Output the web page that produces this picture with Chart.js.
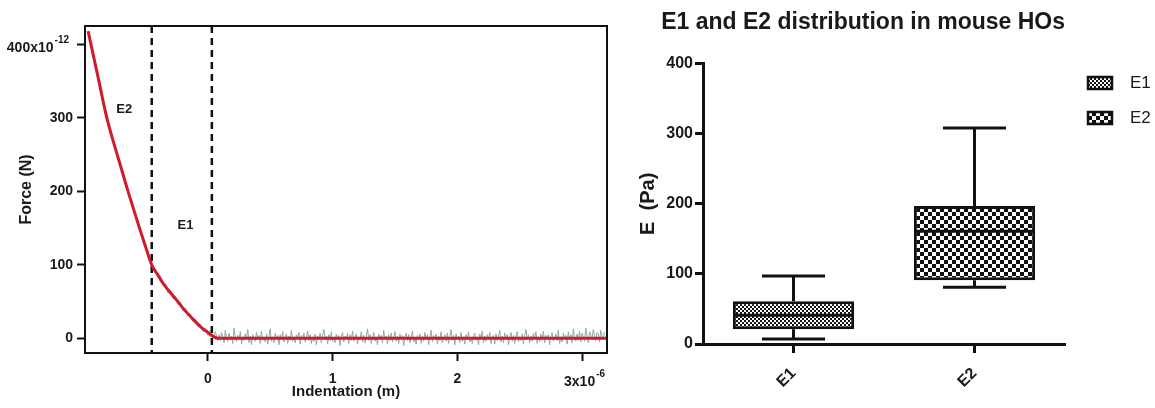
<!DOCTYPE html>
<html>
<head>
<meta charset="utf-8">
<script src="https://cdn.jsdelivr.net/npm/chart.js@4.4.0/dist/chart.umd.min.js"></script>
<style>
  body { margin: 0; background: #fff; }
  #wrap { position: relative; width: 1155px; height: 408px; }
  #forceCanvas { position: absolute; left: 0; top: 0; }
  #boxCanvas { position: absolute; left: 620px; top: 0; }
</style>
</head>
<body>
<div id="wrap">
  <canvas id="forceCanvas" width="620" height="408"></canvas>
  <canvas id="boxCanvas" width="535" height="408"></canvas>
</div>
<script>
const FONT = "'Liberation Sans', Arial, sans-serif";

// ---- force / indentation curve (x in um, force in pN) ----
// raw trace over the contact part, one sample every 0.02 um from -0.96 um
const contactStart = -0.96;
const contactStep = 0.02;
const contactForce = [
  417, 402, 385, 372, 355, 342, 323, 311, 295, 284,
  268, 259, 244, 236, 220, 213, 198, 192, 176, 169,
  154, 147, 133, 127, 113, 107, 95, 94, 83, 84,
  72, 74, 62, 66, 54, 57, 46, 49, 37, 41,
  30, 33, 23, 26, 16, 19, 9, 13, 4, 11,
  1, 9, -3
];
// raw trace over the baseline, one sample every 0.01 um from 0.09 um
const baseStart = 0.09;
const baseStep = 0.01;
const baseForce = [
  5, -3, 8, 2, -6, 11, 0, -4, 7, -2,
  3, -7, 14, 1, -5, 4, -2, 9, -8, 2,
  -3, 6, -1, 12, -6, 3, -9, 5, 0, -4,
  8, -2, 4, -7, 10, -3, 1, -5, 6, -8,
  3, 13, -4, 2, -6, 7, -1, 4, -9, 5,
  -2, 9, -5, 1, 6, -7, 3, -3, 11, -4,
  2, -6, 5, -1, 8, -8, 4, -2, 7, -5,
  1, 10, -3, 5, -7, 2, -4, 6, -9, 3,
  -1, 7, -6, 4, 12, -2, 3, -8, 5, -3,
  9, -4, 1, -6, 6, -2, 4, -10, 2, 8,
  -5, 3, -1, 7, -7, 5, -3, 10, -4, 1,
  6, -8, 2, -2, 9, -5, 4, -6, 3, 13,
  -3, 5, -7, 1, 8, -4, 2, -9, 6, -1,
  4, -6, 11, -2, 3, -8, 5, -3, 7, -5,
  1, 9, -4, 3, -7, 6, -1, 4, -10, 2,
  7, -3, 5, -6, 2, 10, -5, 1, -8, 4,
  -2, 6, -7, 3, -4, 8, -1, 5, -9, 2,
  11, -5, 4, -2, 6, -8, 3, -3, 9, -6,
  1, 5, -4, 7, -7, 2, 12, -3, 4, -9,
  6, -1, 3, -6, 8, -4, 2, -8, 5, -2,
  9, -5, 1, -7, 4, 7, -3, 2, -9, 6,
  -1, 10, -6, 3, -4, 5, -2, 8, -7, 1,
  4, -8, 6, -3, 2, 11, -5, 3, -6, 7,
  -2, 5, -9, 1, 8, -4, 4, -7, 3, 9,
  -5, 2, -3, 6, -8, 4, 12, -2, 5, -6,
  3, -4, 7, -1, 9, -7, 2, -5, 6, -3,
  10, -6, 4, -2, 5, -9, 3, 8, -4, 1,
  6, -3, 11, -7, 2, -5, 7, -1, 4, -8,
  9, -2, 5, -6, 13, 1, -4, 6, -3, 10,
  -5, 7, 2, -4, 14, 3, -6, 9, 5, -2,
  12, 4, -3, 8, 6, -5, 11, 3, -1, 9
];
// two-regime fit
const fitX = [-0.96, -0.88, -0.81, -0.72, -0.64, -0.55, -0.50, -0.45, -0.40, -0.36, -0.30, -0.25, -0.19, -0.13, -0.06, 0.00, 0.04, 0.08, 3.20];
const fitF = [418, 355, 300, 246, 200, 151, 125, 100, 86, 75, 62, 52, 39, 28, 16, 8, 3, 0, 0];
// region boundaries and their labels
const boundaries = [-0.45, 0.032];
const regionNames = ['E2', 'E1'];
const regionX = [-0.67, -0.18];
const regionF = [312, 153];

// ---- E1 / E2 box plot (Pa) ----
const groups = ['E1', 'E2'];
const boxMin = [7, 81];
const boxQ1 = [21, 91];
const boxMedian = [41, 161];
const boxQ3 = [61, 197];
const boxMax = [97, 308];

const rawPoints = contactForce.map((f, i) => ({ x: contactStart + i * contactStep, y: f }))
  .concat(baseForce.map((f, i) => ({ x: baseStart + i * baseStep, y: f })));
const fitPoints = fitX.map((x, i) => ({ x: x, y: fitF[i] }));

function drawPower(ctx, base, exp, x, y, align) {
  ctx.font = 'bold 14px ' + FONT;
  const wb = ctx.measureText(base).width;
  ctx.font = 'bold 10px ' + FONT;
  const we = ctx.measureText(exp).width;
  const left = align === 'right' ? x - wb - we : x - (wb + we) / 2;
  ctx.textAlign = 'left';
  ctx.textBaseline = 'middle';
  ctx.font = 'bold 14px ' + FONT;
  ctx.fillText(base, left, y);
  ctx.font = 'bold 10px ' + FONT;
  ctx.fillText(exp, left + wb + 1, y - 8);
}

const forceDecor = {
  id: 'forceDecor',
  afterDraw(chart) {
    const { ctx, chartArea: a, scales: { x, y } } = chart;
    ctx.save();
    ctx.strokeStyle = '#111';
    ctx.lineWidth = 2;
    ctx.beginPath();
    ctx.moveTo(a.left, a.top);
    ctx.lineTo(a.right, a.top);
    ctx.lineTo(a.right, a.bottom);
    ctx.stroke();

    ctx.fillStyle = '#1a1a1a';
    ctx.font = 'bold 13px ' + FONT;
    ctx.textAlign = 'center';
    ctx.textBaseline = 'middle';
    regionNames.forEach((n, i) => {
      ctx.fillText(n, x.getPixelForValue(regionX[i]), y.getPixelForValue(regionF[i]));
    });

    drawPower(ctx, '400x10', '-12', a.left - 17, y.getPixelForValue(400) + 4, 'right');
    drawPower(ctx, '3x10', '-6', x.getPixelForValue(3) + 2, a.bottom + 29, 'center');
    ctx.restore();
  }
};

new Chart(document.getElementById('forceCanvas'), {
  type: 'line',
  data: {
    datasets: [
      {
        data: fitPoints,
        borderColor: '#cf1b2b',
        borderWidth: 3,
        pointRadius: 0,
        cubicInterpolationMode: 'monotone'
      },
      ...boundaries.map(b => ({
        data: [{ x: b, y: 425 }, { x: b, y: -20 }],
        borderColor: '#111',
        borderWidth: 2.5,
        borderDash: [7, 5],
        pointRadius: 0
      })),
      {
        data: rawPoints,
        borderColor: '#8fa9aa',
        borderWidth: 1,
        pointRadius: 0
      }
    ]
  },
  options: {
    responsive: false,
    animation: false,
    layout: { padding: { top: 26, right: 13, left: 0, bottom: 0 } },
    plugins: { legend: { display: false }, tooltip: { enabled: false } },
    scales: {
      x: {
        type: 'linear',
        min: -0.985,
        max: 3.2,
        afterFit: s => { s.height = 55; },
        border: { color: '#111', width: 2 },
        grid: { drawOnChartArea: false, tickLength: 8, tickColor: '#111', tickWidth: 2 },
        ticks: {
          stepSize: 1,
          includeBounds: false,
          color: '#1a1a1a',
          font: { family: FONT, size: 14, weight: 'bold' },
          padding: 10,
          callback: v => (v === 3 ? '' : v)
        },
        title: {
          display: true,
          text: 'Indentation (m)',
          color: '#1a1a1a',
          font: { family: FONT, size: 15, weight: 'bold' },
          padding: { top: 0, bottom: 7 }
        }
      },
      y: {
        min: -20,
        max: 425,
        afterFit: s => { s.width = 85; },
        border: { color: '#111', width: 2 },
        grid: { drawOnChartArea: false, tickLength: 8, tickColor: '#111', tickWidth: 2 },
        ticks: {
          stepSize: 100,
          includeBounds: false,
          color: '#1a1a1a',
          font: { family: FONT, size: 14, weight: 'bold' },
          padding: 4,
          callback: v => (v === 400 ? '' : v)
        },
        title: {
          display: true,
          text: 'Force (N)',
          color: '#1a1a1a',
          font: { family: FONT, size: 16, weight: 'bold' },
          padding: { top: 17, bottom: 0 }
        }
      }
    }
  },
  plugins: [forceDecor]
});

// ---- box plot ----
function checker(cell) {
  const c = document.createElement('canvas');
  c.width = c.height = cell * 2;
  const g = c.getContext('2d');
  g.fillStyle = '#fff';
  g.fillRect(0, 0, cell * 2, cell * 2);
  g.fillStyle = '#111';
  g.fillRect(0, 0, cell, cell);
  g.fillRect(cell, cell, cell, cell);
  return g.createPattern(c, 'repeat');
}
const fills = [checker(2), checker(4)];

const boxWhiskers = {
  id: 'boxWhiskers',
  afterDatasetsDraw(chart) {
    const ctx = chart.ctx;
    const y = chart.scales.y;
    ctx.save();
    ctx.strokeStyle = '#111';
    ctx.lineWidth = 3;
    groups.forEach((g, i) => {
      const bar = chart.getDatasetMeta(i).data[i];
      const half = bar.width / 2;
      const cap = bar.width * 0.26;
      const yMin = y.getPixelForValue(boxMin[i]);
      const yMax = y.getPixelForValue(boxMax[i]);
      const yMed = y.getPixelForValue(boxMedian[i]);
      ctx.beginPath();
      ctx.moveTo(bar.x, y.getPixelForValue(boxQ3[i]));
      ctx.lineTo(bar.x, yMax);
      ctx.moveTo(bar.x, y.getPixelForValue(boxQ1[i]));
      ctx.lineTo(bar.x, yMin);
      ctx.moveTo(bar.x - cap, yMax);
      ctx.lineTo(bar.x + cap, yMax);
      ctx.moveTo(bar.x - cap, yMin);
      ctx.lineTo(bar.x + cap, yMin);
      ctx.moveTo(bar.x - half + 1, yMed);
      ctx.lineTo(bar.x + half - 1, yMed);
      ctx.stroke();
    });
    ctx.restore();
  }
};

// legend with the hatch swatches, to the right of the plot
const boxLegend = {
  id: 'boxLegend',
  afterDraw(chart) {
    const ctx = chart.ctx;
    const rowY = [83, 118];
    ctx.save();
    ctx.font = '17px ' + FONT;
    ctx.textAlign = 'left';
    ctx.textBaseline = 'middle';
    chart.data.datasets.forEach((ds, i) => {
      ctx.fillStyle = ds.backgroundColor;
      ctx.fillRect(468, rowY[i] - 6, 24, 12);
      ctx.strokeStyle = '#111';
      ctx.lineWidth = 2.5;
      ctx.strokeRect(468, rowY[i] - 6, 24, 12);
      ctx.fillStyle = '#1a1a1a';
      ctx.fillText(ds.label, 510, rowY[i]);
    });
    ctx.restore();
  }
};

new Chart(document.getElementById('boxCanvas'), {
  type: 'bar',
  data: {
    labels: groups,
    datasets: groups.map((g, i) => ({
      label: g,
      data: groups.map((_, j) => (j === i ? [boxQ1[i], boxQ3[i]] : null)),
      backgroundColor: fills[i],
      borderColor: '#111',
      borderWidth: 3,
      borderSkipped: false
    }))
  },
  options: {
    responsive: false,
    animation: false,
    grouped: false,
    categoryPercentage: 1,
    barPercentage: 0.67,
    layout: { padding: { top: 0, right: 90, left: 0, bottom: 0 } },
    plugins: {
      legend: { display: false },
      tooltip: { enabled: false },
      title: {
        display: true,
        text: 'E1 and E2 distribution in mouse HOs',
        align: 'end',
        color: '#1a1a1a',
        font: { family: FONT, size: 23, weight: 'bold' },
        padding: { top: 9, bottom: 27 }
      }
    },
    scales: {
      x: {
        afterFit: s => { s.height = 64; },
        border: { color: '#111', width: 3 },
        grid: { display: true, offset: false, drawOnChartArea: false, tickLength: 9, tickColor: '#111', tickWidth: 3 },
        ticks: {
          color: '#1a1a1a',
          minRotation: 45,
          maxRotation: 45,
          font: { family: FONT, size: 16, weight: 'bold' },
          padding: 11
        }
      },
      y: {
        min: 0,
        max: 400,
        afterFit: s => { s.width = 83; },
        border: { color: '#111', width: 3 },
        grid: { drawOnChartArea: false, tickLength: 8, tickColor: '#111', tickWidth: 3 },
        ticks: {
          stepSize: 100,
          color: '#1a1a1a',
          font: { family: FONT, size: 16, weight: 'bold' },
          padding: 2
        },
        title: {
          display: true,
          text: 'E  (Pa)',
          color: '#1a1a1a',
          font: { family: FONT, size: 20, weight: 'bold' },
          padding: { top: 16, bottom: 0 }
        }
      }
    }
  },
  plugins: [boxWhiskers, boxLegend]
});
</script>
</body>
</html>
